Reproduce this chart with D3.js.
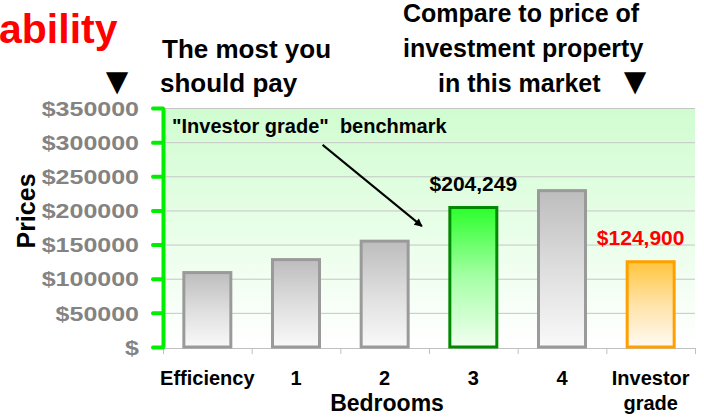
<!DOCTYPE html>
<html>
<head>
<meta charset="utf-8">
<script src="https://cdn.jsdelivr.net/npm/d3@7"></script>
<style>
	body { margin: 0; background: #fff; }
	svg { display: block; font-family: "Liberation Sans", Arial, sans-serif; font-weight: bold; }
	text { white-space: pre; }
</style>
</head>
<body>
<script>
var categories = ["Efficiency", "1", "2", "3", "4", "Investor grade"];
var prices = [109000, 128000, 155000, 204249, 229000, 124900];
var barStyle = ["gray", "gray", "gray", "green", "gray", "orange"];
var yTicks = [0, 50000, 100000, 150000, 200000, 250000, 300000, 350000];
var valueLabels = [
	{cat: "3", value: 204249, text: "$204,249", color: "#000000", dx: 0},
	{cat: "Investor grade", value: 124900, text: "$124,900", color: "#ff0000", dx: -10}
];
// arrow in data units: x = category index position, y = price
var arrowFrom = {i: 1.80, v: 296000};
var arrowTo = {i: 2.92, v: 177000};

function main(){
	var w = 704;
	var h = 418;
	var left = 163, right = 695, top = 108, bottom = 347;

	var svg = d3.select("body")
				.append("svg")
				.attr("width", w)
				.attr("height", h);

	var defs = svg.append("defs");

	function grad(id, c0, c1, c2){
		var g = defs.append("linearGradient")
					.attr("id", id)
					.attr("x1", 0).attr("y1", 0)
					.attr("x2", 0).attr("y2", 1);
		g.append("stop").attr("offset", "0%").attr("stop-color", c0);
		g.append("stop").attr("offset", "50%").attr("stop-color", c1);
		g.append("stop").attr("offset", "100%").attr("stop-color", c2);
	}
	grad("bg", "#d0fcd0", "#e8fee8", "#ffffff");
	grad("gray", "#bdbdbd", "#dedede", "#f9f9f9");
	grad("green", "#2cff2c", "#a6ffa6", "#f2fff2");
	grad("orange", "#ffc53d", "#ffe3a8", "#fffaf3");

	var strokes = {gray: "#9a9a9a", green: "#008a00", orange: "#ffa000"};

	var xScale = d3.scaleBand()
					.domain(categories)
					.range([left, right])
					.paddingInner(0.47)
					.paddingOuter(0.235);

	var idxScale = d3.scaleLinear()
					.domain([0, categories.length])
					.range([left, right]);

	var yScale = d3.scaleLinear()
					.domain([0, 350000])
					.range([bottom, top]);

	// plot background
	svg.append("rect")
			.attr("x", left)
			.attr("y", top)
			.attr("width", right - left)
			.attr("height", bottom - top)
			.attr("fill", "url(#bg)");

	// gridlines
	svg.selectAll(".grid")
			.data(yTicks.filter(d => d > 0))
			.enter()
			.append("line")
			.attr("class", "grid")
			.attr("x1", left)
			.attr("x2", right)
			.attr("y1", d => yScale(d) + 0.5)
			.attr("y2", d => yScale(d) + 0.5)
			.attr("stroke", "#c6c6c6")
			.attr("stroke-width", 1);

	// x axis with boundary ticks
	var xAxis = d3.axisBottom(idxScale)
					.tickValues(d3.range(categories.length + 1))
					.tickFormat("")
					.tickSize(6)
					.tickSizeOuter(0);

	svg.append("g")
			.attr("class", "xaxis")
			.attr("transform", "translate(0," + (bottom + 1) + ")")
			.call(xAxis)
			.call(g => g.selectAll("line,path").attr("stroke", "#c0c0c0"));

	// bars
	svg.selectAll(".bar")
			.data(categories)
			.enter()
			.append("rect")
			.attr("class", "bar")
			.attr("x", d => xScale(d))
			.attr("y", (d, i) => yScale(prices[i]))
			.attr("width", xScale.bandwidth())
			.attr("height", (d, i) => yScale(0) - yScale(prices[i]))
			.attr("fill", (d, i) => "url(#" + barStyle[i] + ")")
			.attr("stroke", (d, i) => strokes[barStyle[i]])
			.attr("stroke-width", 3);

	// value labels
	svg.selectAll(".vlabel")
			.data(valueLabels)
			.enter()
			.append("text")
			.attr("class", "vlabel")
			.attr("x", d => xScale(d.cat) + xScale.bandwidth() / 2 + d.dx)
			.attr("y", d => yScale(d.value) - 17)
			.attr("text-anchor", "middle")
			.attr("font-size", 21)
			.attr("fill", d => d.color)
			.text(d => d.text);

	// y axis
	var yAxis = d3.axisLeft(yScale)
					.tickValues(yTicks)
					.tickSize(10)
					.tickSizeOuter(0)
					.tickFormat(d => d === 0 ? "$" : "$" + d);

	var ya = svg.append("g")
			.attr("class", "yaxis")
			.attr("transform", "translate(" + left + ",0)")
			.call(yAxis);

	ya.select(".domain")
			.attr("stroke", "#00ee00")
			.attr("stroke-width", 4);
	ya.selectAll(".tick line")
			.attr("stroke", "#00ee00")
			.attr("stroke-width", 4)
			.attr("stroke-linecap", "round");
	ya.selectAll(".tick text")
			.attr("x", 0)
			.attr("dy", "0.36em")
			.attr("transform", "translate(-24,0) scale(1.25,1)")
			.attr("font-size", 20)
			.attr("font-family", "\"Liberation Sans\", Arial, sans-serif")
			.attr("font-weight", "bold")
			.attr("fill", "#838383");

	// category labels
	svg.selectAll(".clabel")
			.data(categories)
			.enter()
			.append("text")
			.attr("class", "clabel")
			.attr("x", d => xScale(d) + xScale.bandwidth() / 2)
			.attr("y", 385)
			.attr("text-anchor", "middle")
			.attr("font-size", 20)
			.attr("fill", "#000")
			.each(function(d){
				var parts = d === "Investor grade" ? ["Investor", "grade"] : [d];
				var t = d3.select(this);
				parts.forEach((p, k) => {
					t.append("tspan")
						.attr("x", xScale(d) + xScale.bandwidth() / 2)
						.attr("dy", k === 0 ? 0 : 25)
						.text(p);
				});
			});

	// axis titles
	svg.append("text")
			.attr("x", 387)
			.attr("y", 411)
			.attr("text-anchor", "middle")
			.attr("font-size", 23)
			.text("Bedrooms");

	svg.append("text")
			.attr("transform", "translate(35,211) rotate(-90)")
			.attr("text-anchor", "middle")
			.attr("font-size", 25)
			.text("Prices");

	// benchmark annotation
	svg.append("text")
			.attr("x", left + 9)
			.attr("y", top + 25)
			.attr("font-size", 20)
			.text("\"Investor grade\"  benchmark");

	defs.append("marker")
			.attr("id", "arrow")
			.attr("viewBox", "0 0 10 10")
			.attr("refX", 9)
			.attr("refY", 5)
			.attr("markerWidth", 10)
			.attr("markerHeight", 8)
			.attr("markerUnits", "userSpaceOnUse")
			.attr("orient", "auto")
			.append("path")
			.attr("d", "M0,0 L10,5 L0,10 Z")
			.attr("fill", "#000");

	svg.append("line")
			.attr("x1", idxScale(arrowFrom.i))
			.attr("y1", yScale(arrowFrom.v))
			.attr("x2", idxScale(arrowTo.i))
			.attr("y2", yScale(arrowTo.v))
			.attr("stroke", "#000")
			.attr("stroke-width", 2)
			.attr("marker-end", "url(#arrow)");

	// headings
	svg.append("text")
			.attr("x", -1)
			.attr("y", 43)
			.attr("font-size", 41)
			.attr("fill", "#ff0000")
			.text("ability");

	svg.append("text")
			.attr("x", 162)
			.attr("y", 58)
			.attr("font-size", 26)
			.text("The most you");
	svg.append("text")
			.attr("x", 160)
			.attr("y", 92)
			.attr("font-size", 26)
			.text("should pay");

	svg.append("text")
			.attr("x", 403)
			.attr("y", 22)
			.attr("font-size", 25)
			.text("Compare to price of");
	svg.append("text")
			.attr("x", 403)
			.attr("y", 57)
			.attr("font-size", 25)
			.text("investment property");
	svg.append("text")
			.attr("x", 438)
			.attr("y", 92)
			.attr("font-size", 25)
			.text("in this market");

	// pointer triangles
	svg.selectAll(".tri")
			.data([117, 635])
			.enter()
			.append("text")
			.attr("class", "tri")
			.attr("x", d => d)
			.attr("y", 94)
			.attr("text-anchor", "middle")
			.attr("font-size", 38)
			.text("▼");
}

main();
</script>
</body>
</html>
